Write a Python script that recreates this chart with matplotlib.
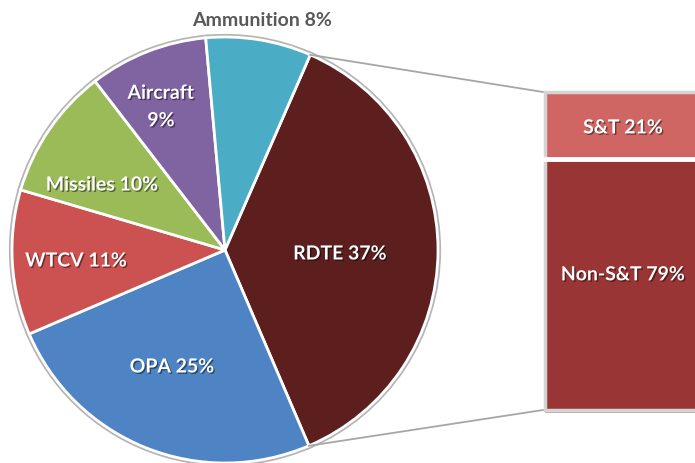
import numpy as np
import matplotlib
matplotlib.use('Agg')
import matplotlib.pyplot as plt
import matplotlib.patheffects as pe

# pie data (clockwise from RDTE)
pie_labels = ['RDTE', 'OPA', 'WTCV', 'Missiles', 'Aircraft', 'Ammunition']
pie_values = [37, 25, 11, 10, 9, 8]
pie_colors = ['#5C1F1E', '#4F84C4', '#CB5250', '#9BBB59', '#8064A2', '#4BACC6']

# bar-of-pie breakdown of RDTE
bar_labels = ['Non-S&T', 'S&T']
bar_values = [79, 21]
bar_colors = ['#993535', '#D06663']

plt.rcParams['font.family'] = ['Lato', 'DejaVu Sans']
plt.rcParams['font.weight'] = 'bold'

W, H = 695, 464
fig = plt.figure(figsize=(W / 100, H / 100), dpi=100)
ax = fig.add_axes([0, 0, 1, 1])

cx, cy, r = 225, H - 251, 213
start = 90 - 23.6

# grey under-line, then white separators on top
ax.pie(pie_values, colors=pie_colors, startangle=start, counterclock=False,
       center=(cx, cy), radius=r,
       wedgeprops=dict(edgecolor='#B5B5B5', linewidth=4.5))
wedges, _ = ax.pie(pie_values, colors=pie_colors, startangle=start, counterclock=False,
                   center=(cx, cy), radius=r,
                   wedgeprops=dict(edgecolor='white', linewidth=2))
ax.set_xlim(0, W)
ax.set_ylim(0, H)
ax.axis('off')

shadow = [pe.withSimplePatchShadow(offset=(1, -1), shadow_rgbFace='black', alpha=0.45)]
fs = 14

# label text, pixel positions (from top-left)
texts = ['RDTE 37%', 'OPA 25%', 'WTCV 11%', 'Missiles 10%', 'Aircraft\n9%', 'Ammunition 8%']
pos = [(340, 255), (172, 368), (76, 262), (102, 186), (161, 108), (262, 20)]
for t, (x, y), lab in zip(texts, pos, pie_labels):
    col = '#595959' if lab == 'Ammunition' else 'white'
    pe_ = None if lab == 'Ammunition' else shadow
    ax.text(x, H - y, t, color=col, fontsize=fs, ha='center', va='center',
            linespacing=1.75, path_effects=pe_)

# bar of pie
ax2 = fig.add_axes([545 / W, (H - 411) / H, (W - 545) / W, 318 / H])
bottom = 0
for v, c, lab in zip(bar_values, bar_colors, bar_labels):
    ax2.bar(0, v, bottom=bottom, width=2, align='edge', color=c,
            edgecolor='#D4D4D4', linewidth=2.5, clip_on=False,
            path_effects=[pe.SimplePatchShadow(offset=(0, -2), alpha=0.35), pe.Normal()])
    bottom += v
ax2.axhline(bar_values[0], color='white', lw=3.5, clip_on=False)
ax2.set_xlim(0, 1)
ax2.set_ylim(0, 100)
ax2.axis('off')

bar_text = ['Non-S&T 79%', 'S&T 21%']
ty = [42.5, 88.7]
for t, y in zip(bar_text, ty):
    ax2.text(0.52, y, t, color='white', fontsize=fs, ha='center', va='center',
             path_effects=shadow)

# connector lines from RDTE wedge edges to the bar corners
w = wedges[0]
to_main = ax2.transData + ax.transData.inverted()
top_corner = to_main.transform((0, 100))
bot_corner = to_main.transform((0, 0))
for ang, corner in [(w.theta2, top_corner), (w.theta1, bot_corner)]:
    px = cx + r * np.cos(np.radians(ang))
    py = cy + r * np.sin(np.radians(ang))
    ax.plot([px, corner[0] - 2], [py, corner[1]], color='#A6A6A6', lw=1.3)

fig.savefig('out.png', dpi=100)
